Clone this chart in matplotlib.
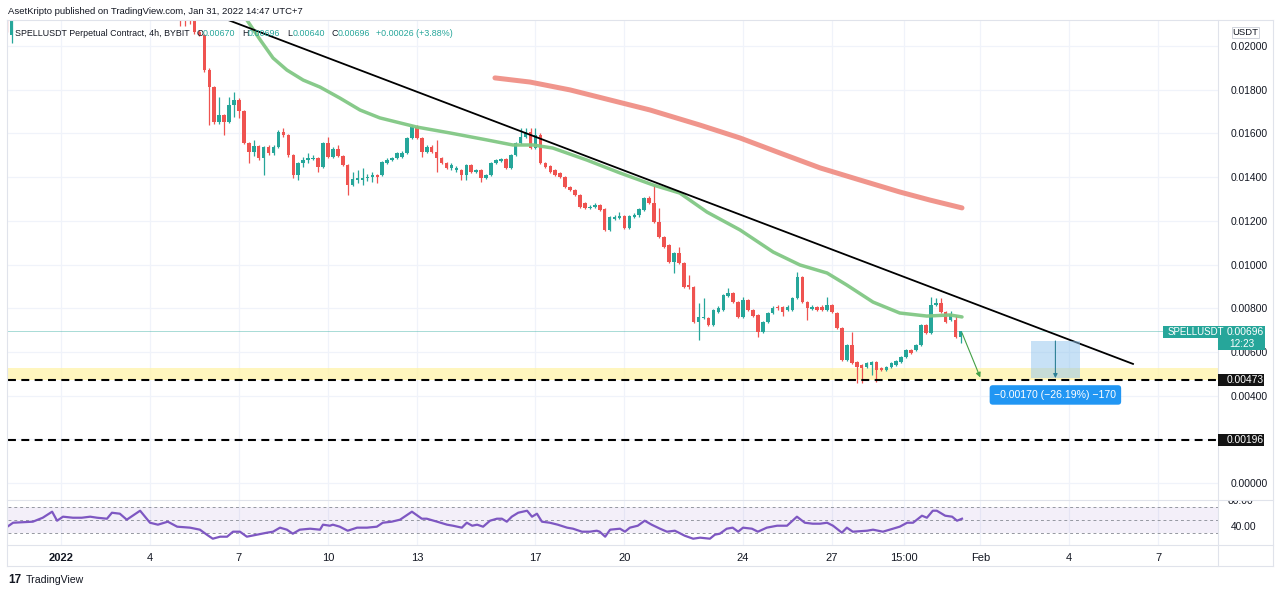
import numpy as np
import matplotlib
matplotlib.use('Agg')
import matplotlib.pyplot as plt
from matplotlib.patches import Rectangle
from matplotlib.lines import Line2D
from matplotlib.transforms import Bbox, TransformedBbox

plt.rcParams['font.family'] = ['Liberation Sans', 'DejaVu Sans']

# ---------------- DATA ----------------
# bar index: 0 = 2022-01-01 00:00, one bar = 4h
early_start = -11
early_open = [0.02142, 0.02050]
early_high = [0.02165, 0.02156]
early_low = [0.02064, 0.02014]
early_close = [0.02073, 0.02128]

main_start = 24
main_open = [
    0.0217, 0.0216, 0.0215, 0.02133, 0.02064, 0.02050, 0.01890, 0.01812, 0.01652, 0.01684,
    0.01652, 0.01730, 0.01753, 0.01703, 0.01556, 0.01515, 0.01542, 0.01487, 0.01538, 0.01510,
    0.01538, 0.01606, 0.01593, 0.01501, 0.01410, 0.01465, 0.01478, 0.01483, 0.01487, 0.01446,
    0.01556, 0.01492, 0.01529, 0.01497, 0.01455, 0.01364, 0.01387, 0.01387, 0.01396, 0.01400,
    0.01410, 0.01410, 0.01465, 0.01478, 0.01487, 0.01492, 0.01510, 0.01579, 0.01629, 0.01579,
    0.01515, 0.01538, 0.01515, 0.01487, 0.01465, 0.01442, 0.01432, 0.01432, 0.01410, 0.01455,
    0.01423, 0.01432, 0.01396, 0.01410, 0.01465, 0.01474, 0.01483, 0.01442, 0.01501, 0.01556,
    0.01584, 0.01606, 0.01533, 0.01593, 0.01465, 0.01451, 0.01432, 0.01419, 0.01400, 0.01355,
    0.01341, 0.01318, 0.01281, 0.01259, 0.01263, 0.01272, 0.01254, 0.01158, 0.01208, 0.01213,
    0.01222, 0.01167, 0.01217, 0.01227, 0.01249, 0.01304, 0.01281, 0.01195, 0.01126, 0.01089,
    0.01011, 0.01053, 0.01007, 0.00906, 0.00897, 0.00737, 0.00755, 0.00755, 0.00723, 0.00783,
    0.00792, 0.00856, 0.00870, 0.00828, 0.00760, 0.00838, 0.00792, 0.00769, 0.00691, 0.00737,
    0.00778, 0.00806, 0.00806, 0.00792, 0.00792, 0.00847, 0.00943, 0.00828, 0.00796, 0.00806,
    0.00806, 0.00792, 0.00815, 0.00778, 0.00709, 0.00563, 0.00632, 0.00554, 0.00540, 0.00531,
    0.00540, 0.00554, 0.00526, 0.00517, 0.00531, 0.00540, 0.00554, 0.00577, 0.00609, 0.00609,
    0.00632, 0.00723, 0.00687, 0.00815, 0.00824, 0.00783, 0.00746, 0.00746, 0.00670]
main_high = [
    0.0220, 0.0219, 0.0218, 0.02150, 0.02073, 0.02055, 0.01900, 0.01815, 0.01767, 0.01689,
    0.01767, 0.01790, 0.01762, 0.01707, 0.01561, 0.01570, 0.01547, 0.01542, 0.01547, 0.01547,
    0.01616, 0.01625, 0.01597, 0.01506, 0.01469, 0.01492, 0.01510, 0.01501, 0.01492, 0.01561,
    0.01584, 0.01538, 0.01547, 0.01501, 0.01460, 0.01423, 0.01432, 0.01442, 0.01414, 0.01423,
    0.01414, 0.01474, 0.01487, 0.01492, 0.01515, 0.01519, 0.01584, 0.01638, 0.01638, 0.01584,
    0.01547, 0.01547, 0.01570, 0.01492, 0.01469, 0.01465, 0.01451, 0.01437, 0.01460, 0.01460,
    0.01437, 0.01437, 0.01414, 0.01469, 0.01483, 0.01487, 0.01487, 0.01506, 0.01561, 0.01625,
    0.01625, 0.01625, 0.01625, 0.01602, 0.01469, 0.01455, 0.01437, 0.01423, 0.01405, 0.01359,
    0.01346, 0.01323, 0.01286, 0.01272, 0.01281, 0.01277, 0.01259, 0.01222, 0.01227, 0.01240,
    0.01227, 0.01227, 0.01236, 0.01259, 0.01309, 0.01314, 0.01364, 0.01259, 0.01130, 0.01094,
    0.01057, 0.01080, 0.01011, 0.00952, 0.00902, 0.00824, 0.00847, 0.00760, 0.00796, 0.00810,
    0.00865, 0.00892, 0.00874, 0.00833, 0.00851, 0.00842, 0.00796, 0.00773, 0.00741, 0.00783,
    0.00810, 0.00815, 0.00810, 0.00815, 0.00851, 0.00966, 0.00947, 0.00833, 0.00815, 0.00810,
    0.00815, 0.00851, 0.00819, 0.00783, 0.00714, 0.00636, 0.00691, 0.00558, 0.00545, 0.00554,
    0.00558, 0.00558, 0.00531, 0.00535, 0.00554, 0.00563, 0.00581, 0.00613, 0.00613, 0.00636,
    0.00728, 0.00728, 0.00851, 0.00847, 0.00847, 0.00787, 0.00787, 0.00769, 0.00696]
main_low = [
    0.02092, 0.02092, 0.02101, 0.02055, 0.02045, 0.01881, 0.01638, 0.01643, 0.01643, 0.01593,
    0.01648, 0.01675, 0.01671, 0.01552, 0.01465, 0.01497, 0.01478, 0.01410, 0.01501, 0.01501,
    0.01533, 0.01584, 0.01492, 0.01396, 0.01387, 0.01446, 0.01465, 0.01478, 0.01423, 0.01442,
    0.01487, 0.01487, 0.01492, 0.01451, 0.01318, 0.01359, 0.01373, 0.01364, 0.01382, 0.01378,
    0.01373, 0.01405, 0.01460, 0.01474, 0.01483, 0.01487, 0.01506, 0.01574, 0.01574, 0.01492,
    0.01510, 0.01510, 0.01423, 0.01460, 0.01437, 0.01432, 0.01423, 0.01387, 0.01387, 0.01419,
    0.01419, 0.01378, 0.01391, 0.01405, 0.01460, 0.01469, 0.01437, 0.01437, 0.01497, 0.01552,
    0.01579, 0.01529, 0.01529, 0.01460, 0.01442, 0.01419, 0.01405, 0.01396, 0.01350, 0.01336,
    0.01314, 0.01259, 0.01254, 0.01254, 0.01259, 0.01245, 0.01153, 0.01153, 0.01204, 0.01208,
    0.01163, 0.01163, 0.01213, 0.01217, 0.01245, 0.01277, 0.01190, 0.01121, 0.01076, 0.01007,
    0.00961, 0.01002, 0.00892, 0.00888, 0.00732, 0.00654, 0.00751, 0.00719, 0.00719, 0.00778,
    0.00787, 0.00851, 0.00824, 0.00755, 0.00755, 0.00787, 0.00760, 0.00668, 0.00687, 0.00732,
    0.00773, 0.00792, 0.00764, 0.00787, 0.00787, 0.00842, 0.00824, 0.00746, 0.00792, 0.00787,
    0.00787, 0.00787, 0.00778, 0.00705, 0.00558, 0.00558, 0.00545, 0.00458, 0.00458, 0.00526,
    0.00494, 0.00462, 0.00513, 0.00513, 0.00526, 0.00535, 0.00549, 0.00572, 0.00590, 0.00604,
    0.00627, 0.00682, 0.00682, 0.00810, 0.00778, 0.00732, 0.00741, 0.00664, 0.00640]
main_close = [
    0.0216, 0.0215, 0.0214, 0.02064, 0.02050, 0.01890, 0.01812, 0.01652, 0.01684, 0.01652,
    0.01730, 0.01753, 0.01703, 0.01556, 0.01515, 0.01542, 0.01487, 0.01538, 0.01510, 0.01538,
    0.01606, 0.01593, 0.01501, 0.01410, 0.01465, 0.01478, 0.01487, 0.01487, 0.01446, 0.01556,
    0.01492, 0.01529, 0.01497, 0.01455, 0.01364, 0.01391, 0.01396, 0.01396, 0.01400, 0.01410,
    0.01400, 0.01469, 0.01478, 0.01487, 0.01510, 0.01510, 0.01579, 0.01629, 0.01579, 0.01515,
    0.01538, 0.01515, 0.01487, 0.01465, 0.01442, 0.01455, 0.01442, 0.01410, 0.01455, 0.01423,
    0.01432, 0.01396, 0.01410, 0.01465, 0.01478, 0.01483, 0.01442, 0.01501, 0.01556, 0.01584,
    0.01606, 0.01533, 0.01593, 0.01465, 0.01446, 0.01423, 0.01410, 0.01400, 0.01355, 0.01341,
    0.01318, 0.01263, 0.01259, 0.01263, 0.01272, 0.01249, 0.01158, 0.01217, 0.01217, 0.01222,
    0.01167, 0.01222, 0.01227, 0.01254, 0.01304, 0.01281, 0.01195, 0.01126, 0.01080, 0.01011,
    0.01053, 0.01007, 0.00897, 0.00897, 0.00737, 0.00760, 0.00760, 0.00723, 0.00792, 0.00801,
    0.00860, 0.00870, 0.00828, 0.00760, 0.00838, 0.00792, 0.00764, 0.00691, 0.00737, 0.00778,
    0.00801, 0.00801, 0.00783, 0.00806, 0.00847, 0.00943, 0.00828, 0.00801, 0.00806, 0.00792,
    0.00792, 0.00815, 0.00783, 0.00709, 0.00563, 0.00632, 0.00549, 0.00531, 0.00526, 0.00549,
    0.00554, 0.00517, 0.00517, 0.00531, 0.00549, 0.00558, 0.00577, 0.00609, 0.00595, 0.00632,
    0.00723, 0.00687, 0.00815, 0.00824, 0.00783, 0.00737, 0.00773, 0.00668, 0.00696]

# moving averages
ma_green_x = [35.0, 37.6, 40.3, 42.9, 45.7, 49.0, 52.4, 56.4, 60.5, 64.5, 68.6, 72.0, 78.7,
              86.2, 91.4, 95.5, 99.5, 106.4, 113.1, 119.8, 125.2, 130.7, 137.4, 144.1, 149.5,
              155.0, 159.0, 164.3, 169.7, 175.2, 179.9, 182.3]
ma_green_v = [0.02200, 0.02119, 0.02028, 0.01945, 0.01890, 0.01844, 0.01812, 0.01762, 0.01707,
              0.01671, 0.01648, 0.01629, 0.01602, 0.01570, 0.01547, 0.01547, 0.01533, 0.01478,
              0.01419, 0.01364, 0.01327, 0.01240, 0.01158, 0.01057, 0.00998, 0.00961, 0.00906,
              0.00828, 0.00778, 0.00764, 0.00769, 0.00760]
ma_red_x = [87.8, 94.9, 103.0, 111.1, 119.2, 129.3, 137.4, 145.5, 153.6, 161.6, 169.7, 175.8, 182.3]
ma_red_v = [0.01854, 0.01835, 0.01799, 0.01753, 0.01707, 0.01638, 0.01579, 0.01510, 0.01442,
            0.01387, 0.01332, 0.01295, 0.01259]

# RSI (14)
rsi_x = [-10.7, -9.7, -5.7, -3.7, -1.8, -0.8, 0.4, 2.4, 4.2, 5.9, 7.3, 9.3, 10.3, 11.9, 13.3,
         16.0, 18.0, 19.6, 21.6, 23.5, 26.1, 28.1, 29.5, 30.7, 32.2, 33.6, 34.8, 36.2, 37.6,
         39.6, 41.7, 42.9, 44.3, 45.7, 46.9, 48.3, 50.4, 52.4, 53.0, 54.4, 55.0, 56.4, 58.0,
         59.9, 61.9, 63.9, 65.1, 66.9, 68.6, 71.0, 73.0, 74.0, 76.1, 78.1, 79.3, 81.1, 82.1,
         83.2, 84.2, 85.4, 86.8, 88.2, 89.2, 90.2, 91.2, 92.5, 94.3, 95.3, 96.3, 97.3, 98.9,
         100.5, 102.4, 103.6, 105.4, 107.0, 108.4, 109.0, 110.1, 111.1, 113.1, 114.1, 115.1,
         116.7, 118.1, 119.5, 121.2, 122.6, 124.2, 126.2, 127.9, 129.3, 131.3, 132.3, 133.3,
         134.7, 135.9, 137.0, 138.0, 139.8, 141.0, 142.8, 144.9, 146.9, 148.9, 150.5, 152.1,
         153.6, 155.0, 156.2, 158.0, 159.0, 160.2, 163.1, 164.3, 166.3, 168.3, 169.7, 171.2,
         172.4, 174.2, 175.2, 176.4, 177.2, 178.9, 180.3, 181.3, 182.3]
rsi_v = [40.5, 45.8, 47.4, 53.5, 62.8, 48.9, 55.1, 53.5, 53.5, 55.1, 53.5, 52.0, 61.2, 59.7, 50.5,
         64.3, 45.8, 42.8, 47.4, 39.7, 38.2, 35.1, 27.4, 21.2, 24.3, 24.3, 32.0, 32.0, 24.3,
         27.4, 30.5, 32.0, 38.2, 35.1, 28.9, 35.1, 36.6, 35.1, 42.8, 41.2, 42.8, 39.7, 33.5,
         38.2, 38.2, 39.7, 45.8, 47.4, 50.5, 62.8, 52.0, 52.0, 47.4, 42.8, 41.2, 38.2, 45.8,
         41.2, 42.8, 39.7, 48.9, 52.0, 52.0, 47.4, 55.1, 61.2, 64.3, 55.1, 59.7, 47.4, 45.8,
         42.8, 38.2, 36.6, 32.0, 32.0, 33.5, 32.0, 24.3, 35.1, 36.6, 32.0, 38.2,
         41.2, 48.9, 42.8, 36.6, 32.0, 33.5, 25.8, 21.2, 22.8, 21.2, 27.4, 28.9,
         36.6, 38.2, 32.0, 38.2, 36.6, 32.0, 38.2, 41.2, 41.2, 55.1, 45.8, 44.3,
         44.3, 45.8, 41.2, 30.5, 38.2, 32.0, 33.5, 35.1, 32.0, 36.6, 39.7, 45.8,
         45.8, 56.6, 53.5, 64.3, 64.3, 56.6, 55.1, 48.9, 52.0]

# drawings
trend_x = [33.8, 216.9]
trend_v = [0.02119, 0.00545]
support_levels = [0.00473, 0.00196]
zone = (0.00473, 0.00527)
last_price = 0.00696
target_arrow = ((182.3, 0.00687), (186.0, 0.00483))
measure_x = (196.2, 206.2)
measure_v = (0.00480, 0.00650)
measure_text = "\u22120.00170 (\u221226.19%) \u2212170"

price_ticks = [0.000, 0.002, 0.004, 0.006, 0.008, 0.010, 0.012, 0.014, 0.016, 0.018, 0.020]
hidden_price_ticks = [0.002]   # covered by the 0.00196 level label
date_ticks = [0, 18, 36, 54, 72, 96, 114, 138, 156, 170.5, 186, 204, 222]
date_labels = ["2022", "4", "7", "10", "13", "17", "20", "24", "27", "15:00", "Feb", "4", "7"]

UP, DOWN = '#26A69A', '#EF5350'
TXT = '#131722'

# ---------------- FIGURE ----------------
W, H = 1280, 594
fig = plt.figure(figsize=(W / 100, H / 100), dpi=100)
fig.patch.set_facecolor('white')


def fx(px):
    return px / W


def fy(py):
    return 1 - py / H


ax = fig.add_axes([fx(8), fy(500), (1218 - 8) / W, 480 / H])
axr = fig.add_axes([fx(8), fy(545), (1218 - 8) / W, 45 / H], sharex=ax)

XMIN, XMAX = -10.73, 234.1
ax.set_xlim(XMIN, XMAX)
ax.set_ylim(-0.000778, 0.02119)
axr.set_ylim(11.5, 80.8)

for a in (ax, axr):
    for s in a.spines.values():
        s.set_visible(False)
    a.set_facecolor('white')


def draw_candles(start, o, h, l, c):
    x = np.arange(len(o)) + start
    o, h, l, c = map(np.asarray, (o, h, l, c))
    cols = np.where(c >= o, UP, DOWN)
    ax.vlines(x, l, h, colors=cols, lw=0.9, zorder=3)
    body = np.maximum(np.abs(c - o), 0.00002)
    ax.bar(x, body, bottom=np.minimum(o, c), width=0.72, color=cols, zorder=3, linewidth=0)


draw_candles(early_start, early_open, early_high, early_low, early_close)
draw_candles(main_start, main_open, main_high, main_low, main_close)

# zone + levels
ax.axhspan(zone[0], zone[1], color='#FFF3A8', alpha=0.75, lw=0, zorder=1)
for lv in support_levels:
    ax.axhline(lv, color='black', lw=1.5, dashes=(3.8, 2.6), zorder=4)
ax.axhline(last_price, color='#26A69A', lw=0.7, alpha=0.4, zorder=2)

# moving averages
ax.plot(ma_green_x, ma_green_v, color='#81C784', lw=2.5, alpha=0.95, zorder=4,
        solid_capstyle='round', solid_joinstyle='round')
ax.plot(ma_red_x, ma_red_v, color='#EF8A80', lw=3.6, alpha=0.9, zorder=4,
        solid_capstyle='round', solid_joinstyle='round')

# trend line
ax.plot(trend_x, trend_v, color='black', lw=1.3, zorder=5)

# projection arrow
ax.annotate('', xy=target_arrow[1], xytext=target_arrow[0],
            arrowprops=dict(arrowstyle='-|>', color='#43A047', lw=0.8,
                            mutation_scale=7, shrinkA=0, shrinkB=0), zorder=6)

# measure tool
ax.add_patch(Rectangle((measure_x[0], measure_v[0]), measure_x[1] - measure_x[0],
                       measure_v[1] - measure_v[0], facecolor='#90C4EE', alpha=0.5,
                       lw=0, zorder=5))
mx = (measure_x[0] + measure_x[1]) / 2
ax.annotate('', xy=(mx, measure_v[0]), xytext=(mx, measure_v[1]),
            arrowprops=dict(arrowstyle='-|>', color='#2C7F95', lw=0.8,
                            mutation_scale=6, shrinkA=0, shrinkB=0), zorder=6)
ax.text(mx, 0.00403, measure_text, color='white', fontsize=7.6, ha='center', va='center',
        zorder=7, bbox=dict(boxstyle='round,pad=0.45,rounding_size=0.3', fc='#2196F3',
                            ec='none'))

# grids & ticks
ax.set_yticks(price_ticks)
ax.yaxis.tick_right()
ax.set_yticklabels(["" if v in hidden_price_ticks else f"{v:.5f}" for v in price_ticks])
ax.tick_params(axis='y', length=0, pad=9, labelsize=7.4, labelcolor=TXT)
ax.set_xticks(date_ticks)
ax.tick_params(axis='x', length=0, labelbottom=False)
ax.grid(True, color='#F0F3FA', lw=0.9, zorder=0)
ax.set_axisbelow(True)

axr.set_xticks(date_ticks)
axr.set_xticklabels(date_labels)
axr.tick_params(axis='x', length=0, pad=6, labelsize=8, labelcolor=TXT)
axr.get_xticklabels()[0].set_fontweight('bold')
axr.yaxis.tick_right()
axr.set_yticks([40])
axr.set_yticklabels(["40.00"])
axr.tick_params(axis='y', length=0, pad=9, labelsize=7.4, labelcolor=TXT)
axr.grid(True, axis='x', color='#F0F3FA', lw=0.9, zorder=0)
axr.set_axisbelow(True)

# RSI pane
axr.axhspan(30, 70, color='#7E57C2', alpha=0.09, lw=0)
for lv in (70, 50, 30):
    axr.axhline(lv, color='#9598A1', lw=0.7, dashes=(3, 3))
axr.plot(rsi_x, rsi_v, color='#7E57C2', lw=1.6, zorder=4)

# ---------------- figure-level decorations ----------------
border = '#E0E3EB'


def fline(x0, y0, x1, y1, color=border, lw=0.8):
    fig.add_artist(Line2D([fx(x0), fx(x1)], [fy(y0), fy(y1)], color=color, lw=lw,
                          transform=fig.transFigure))


fline(7, 20, 7, 566)
fline(1218, 20, 1218, 566)
fline(1273, 20, 1273, 566)
fline(7, 20, 1273, 20)
fline(7, 500, 1273, 500)
fline(7, 545, 1273, 545)
fline(7, 566, 1273, 566)


def fbox(x0, y0, x1, y1, color):
    fig.add_artist(Rectangle((fx(x0), fy(y1)), (x1 - x0) / W, (y1 - y0) / H,
                             transform=fig.transFigure, fc=color, ec='none', zorder=5))


# USDT box
fig.add_artist(Rectangle((fx(1232), fy(38)), 27 / W, 11 / H, transform=fig.transFigure,
                         fc='white', ec='#D1D4DC', lw=0.7, zorder=5))
fig.text(fx(1245.5), fy(32.5), "USDT", fontsize=6.8, color=TXT, ha='center', va='center',
         zorder=6)

# last price label
fbox(1163, 326, 1218, 338, '#26A69A')
fbox(1218, 326, 1265, 350, '#26A69A')
fig.text(fx(1168), fy(332), "SPELLUSDT", fontsize=7, color='white', va='center', zorder=6)
fig.text(fx(1227), fy(332), f"{last_price:.5f}", fontsize=7.4, color='white', va='center',
         zorder=6)
fig.text(fx(1229), fy(344), "12:23", fontsize=7.2, color='white', va='center', zorder=6)

# level labels
for lv in support_levels:
    yc = 483 - lv * 21850
    fbox(1218, yc - 6, 1264, yc + 6, '#131313')
    fig.text(fx(1227), fy(yc), f"{lv:.5f}", fontsize=7.4, color='white', va='center',
             zorder=6)

# clipped upper RSI label
t80 = fig.text(fx(1227), fy(501), "80.00", fontsize=7.4, color=TXT, va='center', zorder=6)
t80.set_clip_box(TransformedBbox(Bbox([[fx(1219), fy(566)], [fx(1272), fy(500.5)]]),
                                 fig.transFigure))
t80.set_clip_on(True)

# header
fig.text(fx(8), fy(12), "AsetKripto published on TradingView.com, Jan 31, 2022 14:47 UTC+7",
         fontsize=6.8, color=TXT, va='center')
leg_y = fy(33)
LFS = 6.4
fig.text(fx(15), leg_y, "SPELLUSDT Perpetual Contract, 4h, BYBIT", fontsize=LFS, color=TXT,
         va='center', zorder=6)
ohlc = [("O", 197, main_open[-1]), ("H", 242, main_high[-1]),
        ("L", 287, main_low[-1]), ("C", 332, main_close[-1])]
for k, xp, v in ohlc:
    fig.text(fx(xp), leg_y, k, fontsize=LFS, color=TXT, va='center', zorder=6)
    fig.text(fx(xp + 5.5), leg_y, f"{v:.5f}", fontsize=LFS, color=UP, va='center', zorder=6)
chg = main_close[-1] - main_open[-1]
fig.text(fx(376), leg_y, f"+{chg:.5f} (+{chg / main_open[-1] * 100:.2f}%)", fontsize=LFS,
         color=UP, va='center', zorder=6)

# footer logo
fig.text(fx(8), fy(580), "17", fontsize=8.5, fontweight='heavy', color=TXT, va='center')
fig.text(fx(26), fy(580), "TradingView", fontsize=7.6, color=TXT, va='center')

fig.savefig('out.png', dpi=100, facecolor='white')
